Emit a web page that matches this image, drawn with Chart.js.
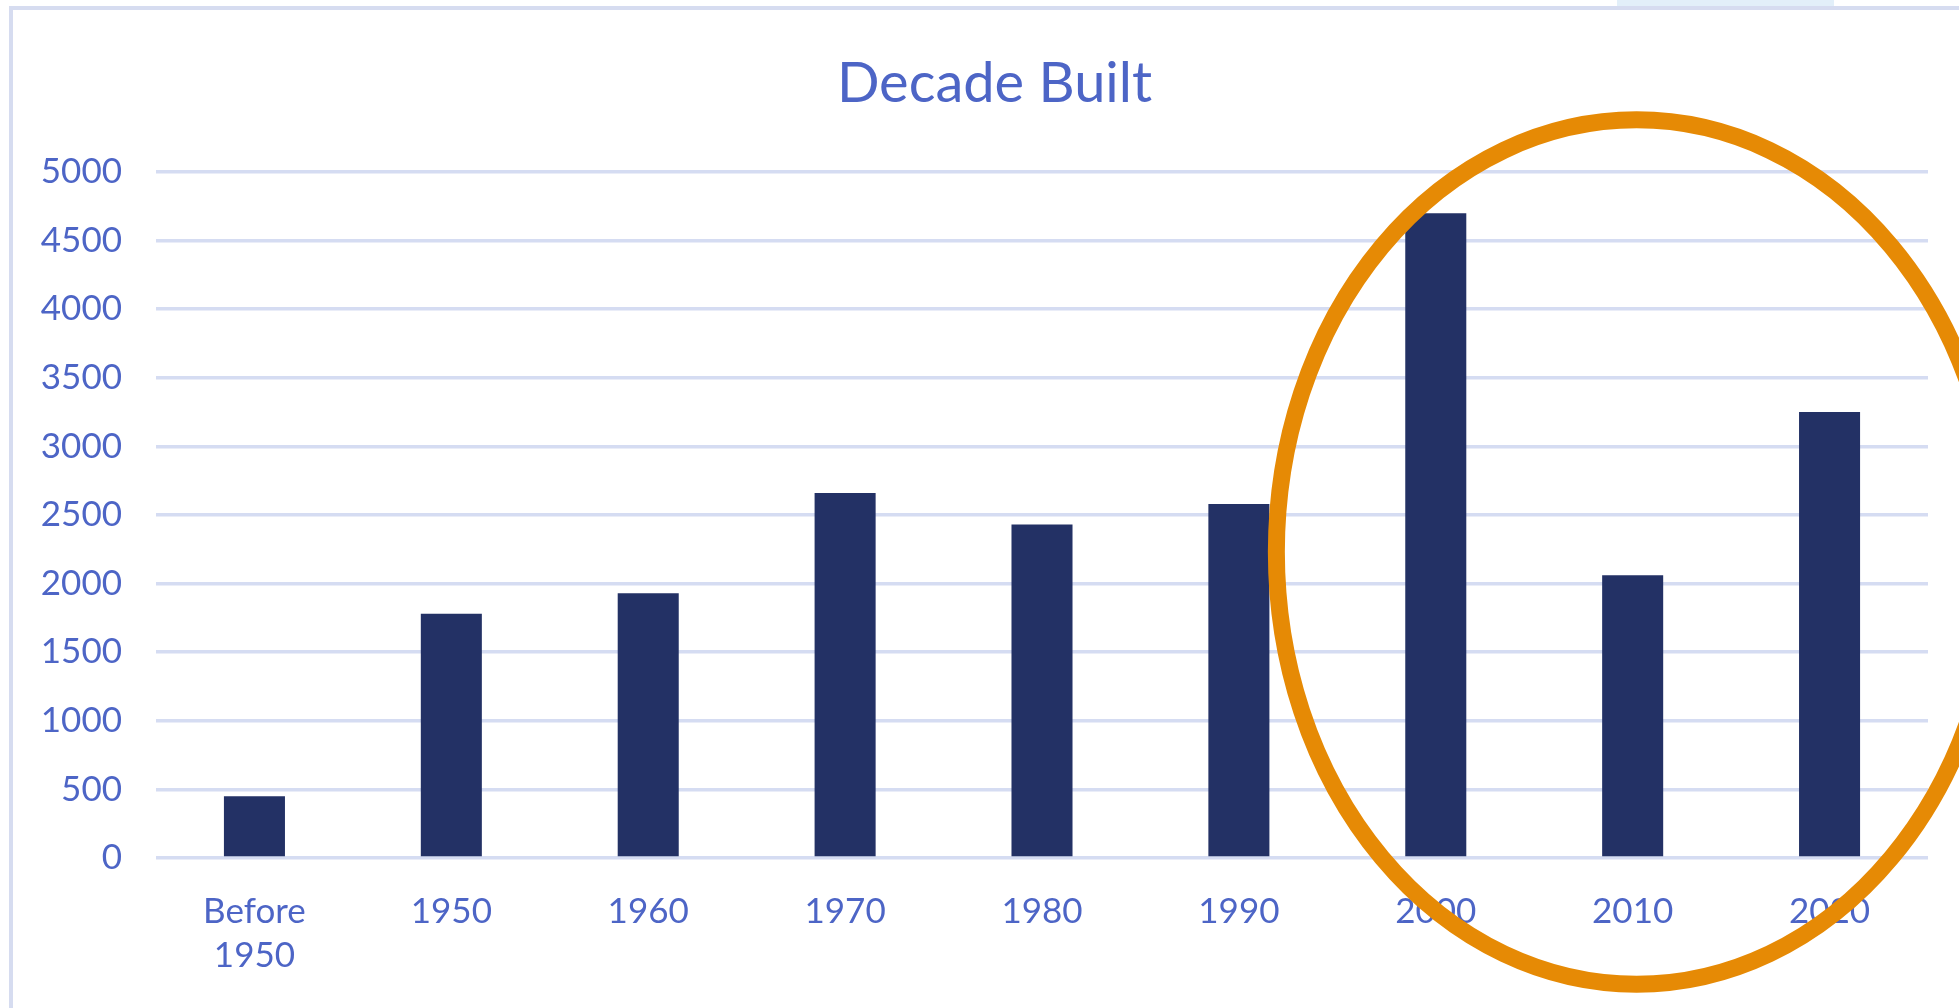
<!DOCTYPE html>
<html lang="en">
<head>
<meta charset="utf-8">
<title>Decade Built</title>
<script src="https://cdn.jsdelivr.net/npm/chart.js@4.4.1/dist/chart.umd.min.js"></script>
<style>
    html, body { margin: 0; padding: 0; background: #fff; overflow: hidden; }
    body { width: 1959px; height: 1008px; position: relative; }
    /* cadre du graphique (coupe a droite et en bas) */
    #cadre {
        position: absolute; left: 9px; top: 6px;
        width: 2100px; height: 1100px;
        border: 4px solid #d6dcf0; box-sizing: border-box;
    }
    #onglet {
        position: absolute; left: 1617px; top: 0; width: 217px; height: 6px;
        background: #e2eff9;
    }
    #chart-decade { position: absolute; left: 0; top: 0; }
</style>
</head>
<body>
<div id="onglet"></div>
<div id="cadre"></div>
<canvas id="chart-decade" width="1959" height="1008"></canvas>

<script>
// Donnees
const chartTitle = 'Decade Built';
const decades = [['Before', '1950'], '1950', '1960', '1970', '1980', '1990', '2000', '2010', '2020'];
const housesBuilt = [450, 1780, 1930, 2660, 2430, 2580, 4700, 2060, 3250];
const yTicks = [0, 500, 1000, 1500, 2000, 2500, 3000, 3500, 4000, 4500, 5000];

const TEXT_BLUE = '#4d65c6';
const GRID = '#d5dcf2';

// Titre centre sur le cadre (qui depasse a droite), pas sur le canvas
const titlePlugin = {
    id: 'cadreTitle',
    afterDraw(chart) {
        const { ctx } = chart;
        ctx.save();
        ctx.fillStyle = TEXT_BLUE;
        ctx.font = '56px Lato';
        ctx.textAlign = 'center';
        ctx.textBaseline = 'middle';
        ctx.fillText(chartTitle, chart.width / 2 + 15, 84);
        ctx.restore();
    }
};

// Cercle orange dessine a la main autour de 2000-2020
const ringPlugin = {
    id: 'ring',
    afterDraw(chart) {
        const { ctx } = chart;
        const x = chart.scales.x;
        const y = chart.scales.y;
        const cx = x.getPixelForValue(7) + 4;
        const cy = y.getPixelForValue(2230);
        const rx = x.width / decades.length * 1.83;
        const ry = (y.getPixelForValue(0) - y.getPixelForValue(5000)) * 0.63;
        ctx.save();
        ctx.strokeStyle = '#e68a05';
        ctx.lineWidth = 17;
        ctx.beginPath();
        ctx.ellipse(cx, cy, rx, ry, 0, 0, Math.PI * 2);
        ctx.stroke();
        ctx.restore();
    }
};

const canvas = document.getElementById('chart-decade');
new Chart(canvas.getContext('2d'), {
    type: 'bar',
    data: {
        labels: decades,
        datasets: [{
            label: chartTitle,
            data: housesBuilt,
            backgroundColor: '#233165',
            borderWidth: 0,
            categoryPercentage: 1,
            barPercentage: 0.31
        }]
    },
    options: {
        responsive: false,
        animation: false,
        layout: { padding: { left: 0, right: 31, top: 172, bottom: 30 } },
        plugins: {
            legend: { display: false },
            tooltip: { enabled: false },
            title: { display: false }
        },
        scales: {
            x: {
                grid: { display: false, drawTicks: false },
                border: { display: false },
                ticks: {
                    color: TEXT_BLUE,
                    font: { family: 'Lato', size: 35, lineHeight: 1.25 },
                    padding: 32,
                    maxRotation: 0,
                    autoSkip: false
                },
                afterFit(scale) { scale.height = 120; }
            },
            y: {
                min: 0,
                max: 5000,
                afterBuildTicks(scale) { scale.ticks = yTicks.map(v => ({ value: v })); },
                grid: { color: GRID, lineWidth: 3.5, drawTicks: false },
                border: { display: false },
                ticks: {
                    color: TEXT_BLUE,
                    font: { family: 'Lato', size: 35 },
                    padding: 34,
                    // pas de separateur de milliers
                    callback: value => String(value)
                },
                afterFit(scale) { scale.width = 156; }
            }
        }
    },
    plugins: [titlePlugin, ringPlugin]
});
</script>
</body>
</html>
